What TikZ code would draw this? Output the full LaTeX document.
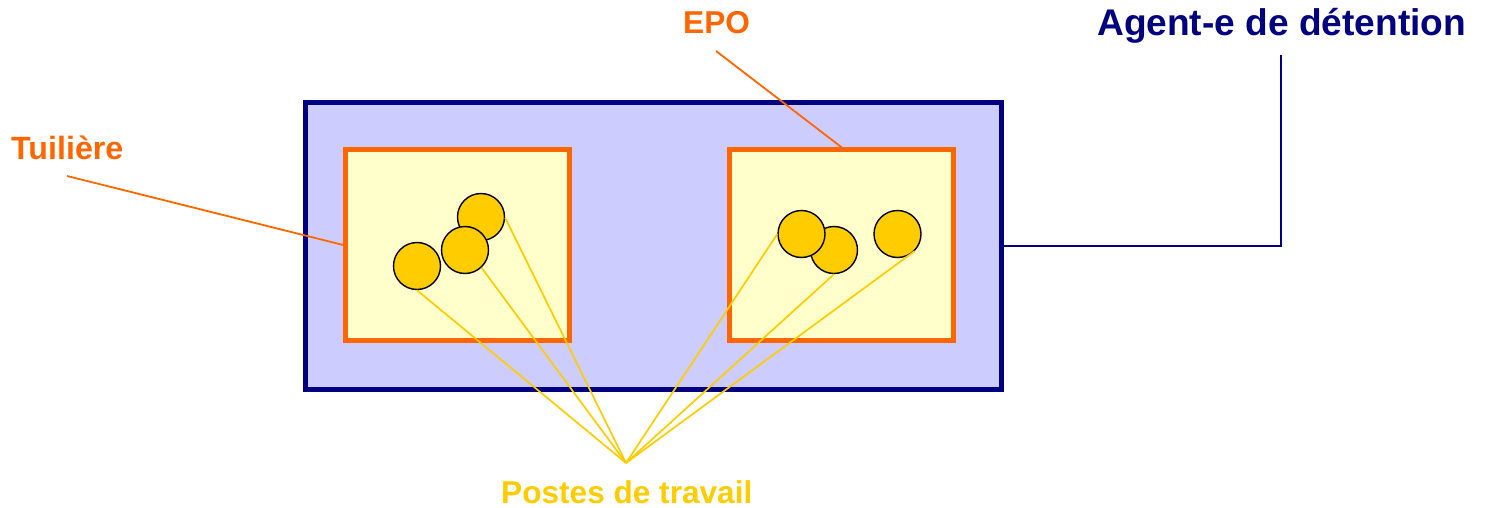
\documentclass[tikz,border=0pt]{standalone}
\usepackage{fontspec}
\setmainfont{Liberation Sans}
\definecolor{navyc}{HTML}{000080}
\definecolor{lavc}{HTML}{CCCCFF}
\definecolor{orc}{HTML}{FF6600}
\definecolor{palec}{HTML}{FFFFCC}
\definecolor{goldc}{HTML}{FFCC00}
\begin{document}
\begin{tikzpicture}[x=1pt,y=-1pt,
  outerbox/.style={draw=navyc,fill=lavc,line width=5pt,rectangle,minimum width=696pt,minimum height=286pt,inner sep=0pt},
  orbox/.style={draw=orc,fill=palec,line width=4.5pt,rectangle,minimum width=224pt,minimum height=191pt,inner sep=0pt},
  poste/.style={draw=black,fill=goldc,line width=1.4pt,circle,minimum size=47pt,inner sep=0pt},
  lbl/.style={inner sep=0pt,anchor=base west,font=\bfseries\fontsize{32.2}{36}\selectfont},
  orline/.style={draw=orc,line width=1.8pt},
  yline/.style={draw=goldc,line width=1.7pt},
  navline/.style={draw=navyc,line width=1.8pt}]
\useasboundingbox (0,0) rectangle (1485,508);
\node[outerbox] (outer) at (653,246) {};
\node[orbox] (tuil) at (457.5,245) {};
\node[orbox] (epo) at (841.5,245) {};
% labels
\node[lbl,text=navyc,font=\bfseries\fontsize{37.1}{40}\selectfont] (agentlbl) at (1097,36) {Agent-e de détention};
\node[lbl,text=orc] (tuillbl) at (11,160) {Tuilière};
\node[lbl,text=orc,font=\bfseries\fontsize{31.6}{36}\selectfont] (epolbl) at (683,34) {EPO};
\node[lbl,text=goldc,font=\bfseries\fontsize{31.6}{36}\selectfont] (posteslbl) at (501,503.5) {Postes de travail};
% free ends
\coordinate (tuilstart) at (67,176);
\coordinate (epostart) at (716,51);
\coordinate (agentend) at (1281,55);
\coordinate (conv) at (626,463);
% leaders
\draw[orline] (tuilstart) -- (tuil.west);
\draw[orline] (epostart) -- (epo.north);
\draw[navline] (outer.east) -| (agentend);
% circles
\node[poste] (pa) at (481,217) {};
\node[poste] (pb) at (465,250) {};
\node[poste] (pc) at (417,266) {};
\node[poste] (pe) at (834,250) {};
\node[poste] (pd) at (801.5,234) {};
\node[poste] (pf) at (897.5,234) {};
% lines to postes
\draw[yline] (pc.south) -- (conv);
\draw[yline] (pb.-47) -- (conv);
\draw[yline] (pa.-2) -- (conv);
\draw[yline] (pd.west) -- (conv);
\draw[yline] (pe.south) -- (conv);
\draw[yline] (pf.-45) -- (conv);
\end{tikzpicture}
\end{document}
